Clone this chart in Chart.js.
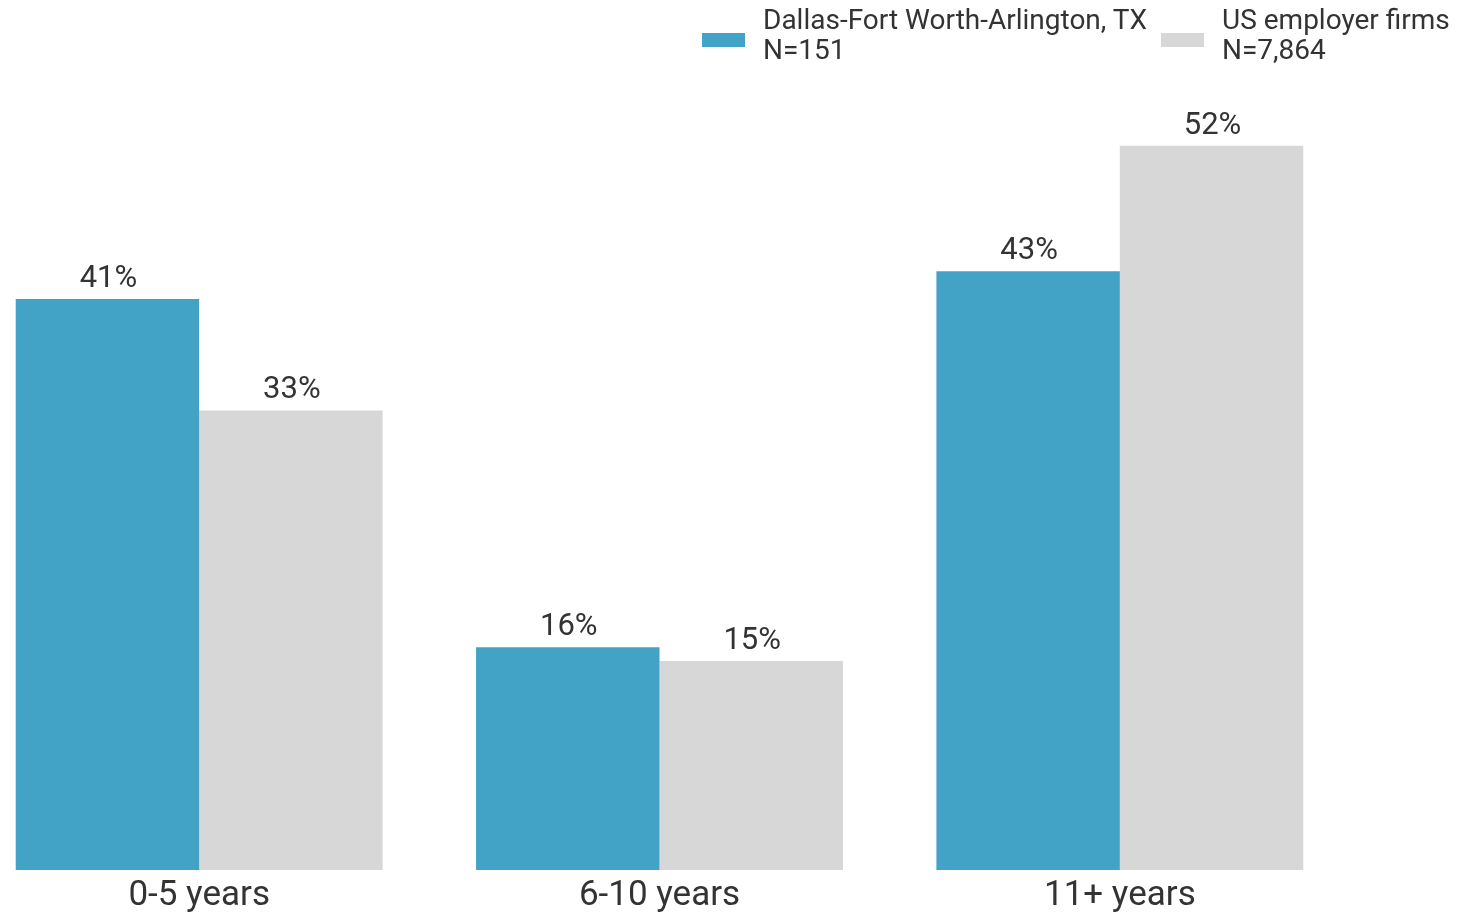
<!DOCTYPE html>
<html>
<head>
<meta charset="utf-8">
<script src="https://cdn.jsdelivr.net/npm/chart.js@4/dist/chart.umd.min.js"></script>
<style>
  html, body { margin: 0; padding: 0; background: #fff; }
  body { width: 1460px; height: 914px; position: relative; overflow: hidden; font-family: Roboto, sans-serif; color: #333; }
  #wrap { position: absolute; left: -31px; top: 0; width: 1381px; height: 914px; }
  .legend { position: absolute; top: 5px; font-size: 28px; line-height: 30px; }
  .legend .box { position: absolute; top: 28px; width: 43px; height: 14px; }
  .legend .txt { position: absolute; left: 61px; top: 0; white-space: nowrap; }
</style>
</head>
<body>
<div id="wrap"><canvas id="barChart"></canvas></div>
<div id="legend"></div>
<script>
const categories = ['0-5 years', '6-10 years', '11+ years'];
const seriesNames = [['Dallas-Fort Worth-Arlington, TX', 'N=151'], ['US employer firms', 'N=7,864']];
const dallasValues = [41, 16, 43];
const usValues = [33, 15, 52];
const colors = ['#42a3c7', '#d7d7d7'];

// legend in html, two lines per series
const legendLeft = [702, 1161];
const legendEl = document.getElementById('legend');
seriesNames.forEach((lines, i) => {
  const item = document.createElement('div');
  item.className = 'legend';
  item.style.left = legendLeft[i] + 'px';
  item.innerHTML = '<div class="box" style="background:' + colors[i] + '"></div>' +
    '<div class="txt">' + lines.join('<br>') + '</div>';
  legendEl.appendChild(item);
});

// draws the % above every bar
const valueLabels = {
  id: 'valueLabels',
  afterDatasetsDraw(chart) {
    const ctx = chart.ctx;
    ctx.save();
    ctx.font = '31px Roboto';
    ctx.fillStyle = '#333';
    ctx.textAlign = 'center';
    ctx.textBaseline = 'alphabetic';
    chart.data.datasets.forEach((ds, i) => {
      chart.getDatasetMeta(i).data.forEach((bar, j) => {
        ctx.fillText(ds.data[j] + '%', bar.x + 1, bar.y - 12);
      });
    });
    ctx.restore();
  }
};

const ctx = document.getElementById('barChart').getContext('2d');
new Chart(ctx, {
  type: 'bar',
  data: {
    labels: categories,
    datasets: [
      { label: seriesNames[0].join(' '), data: dallasValues, backgroundColor: colors[0] },
      { label: seriesNames[1].join(' '), data: usValues, backgroundColor: colors[1] }
    ]
  },
  options: {
    responsive: true,
    maintainAspectRatio: false,
    animation: false,
    categoryPercentage: 0.797,
    barPercentage: 1.0,
    layout: { padding: { top: 104, left: 0, right: 0, bottom: 0 } },
    scales: {
      x: {
        grid: { display: false },
        border: { display: false },
        ticks: { color: '#333', font: { family: 'Roboto', size: 35 }, padding: -3 },
        afterFit: s => { s.height = 44; }
      },
      y: {
        display: false,
        min: 0,
        max: 55
      }
    },
    plugins: {
      legend: { display: false },
      tooltip: { enabled: false }
    }
  },
  plugins: [valueLabels]
});
</script>
</body>
</html>
